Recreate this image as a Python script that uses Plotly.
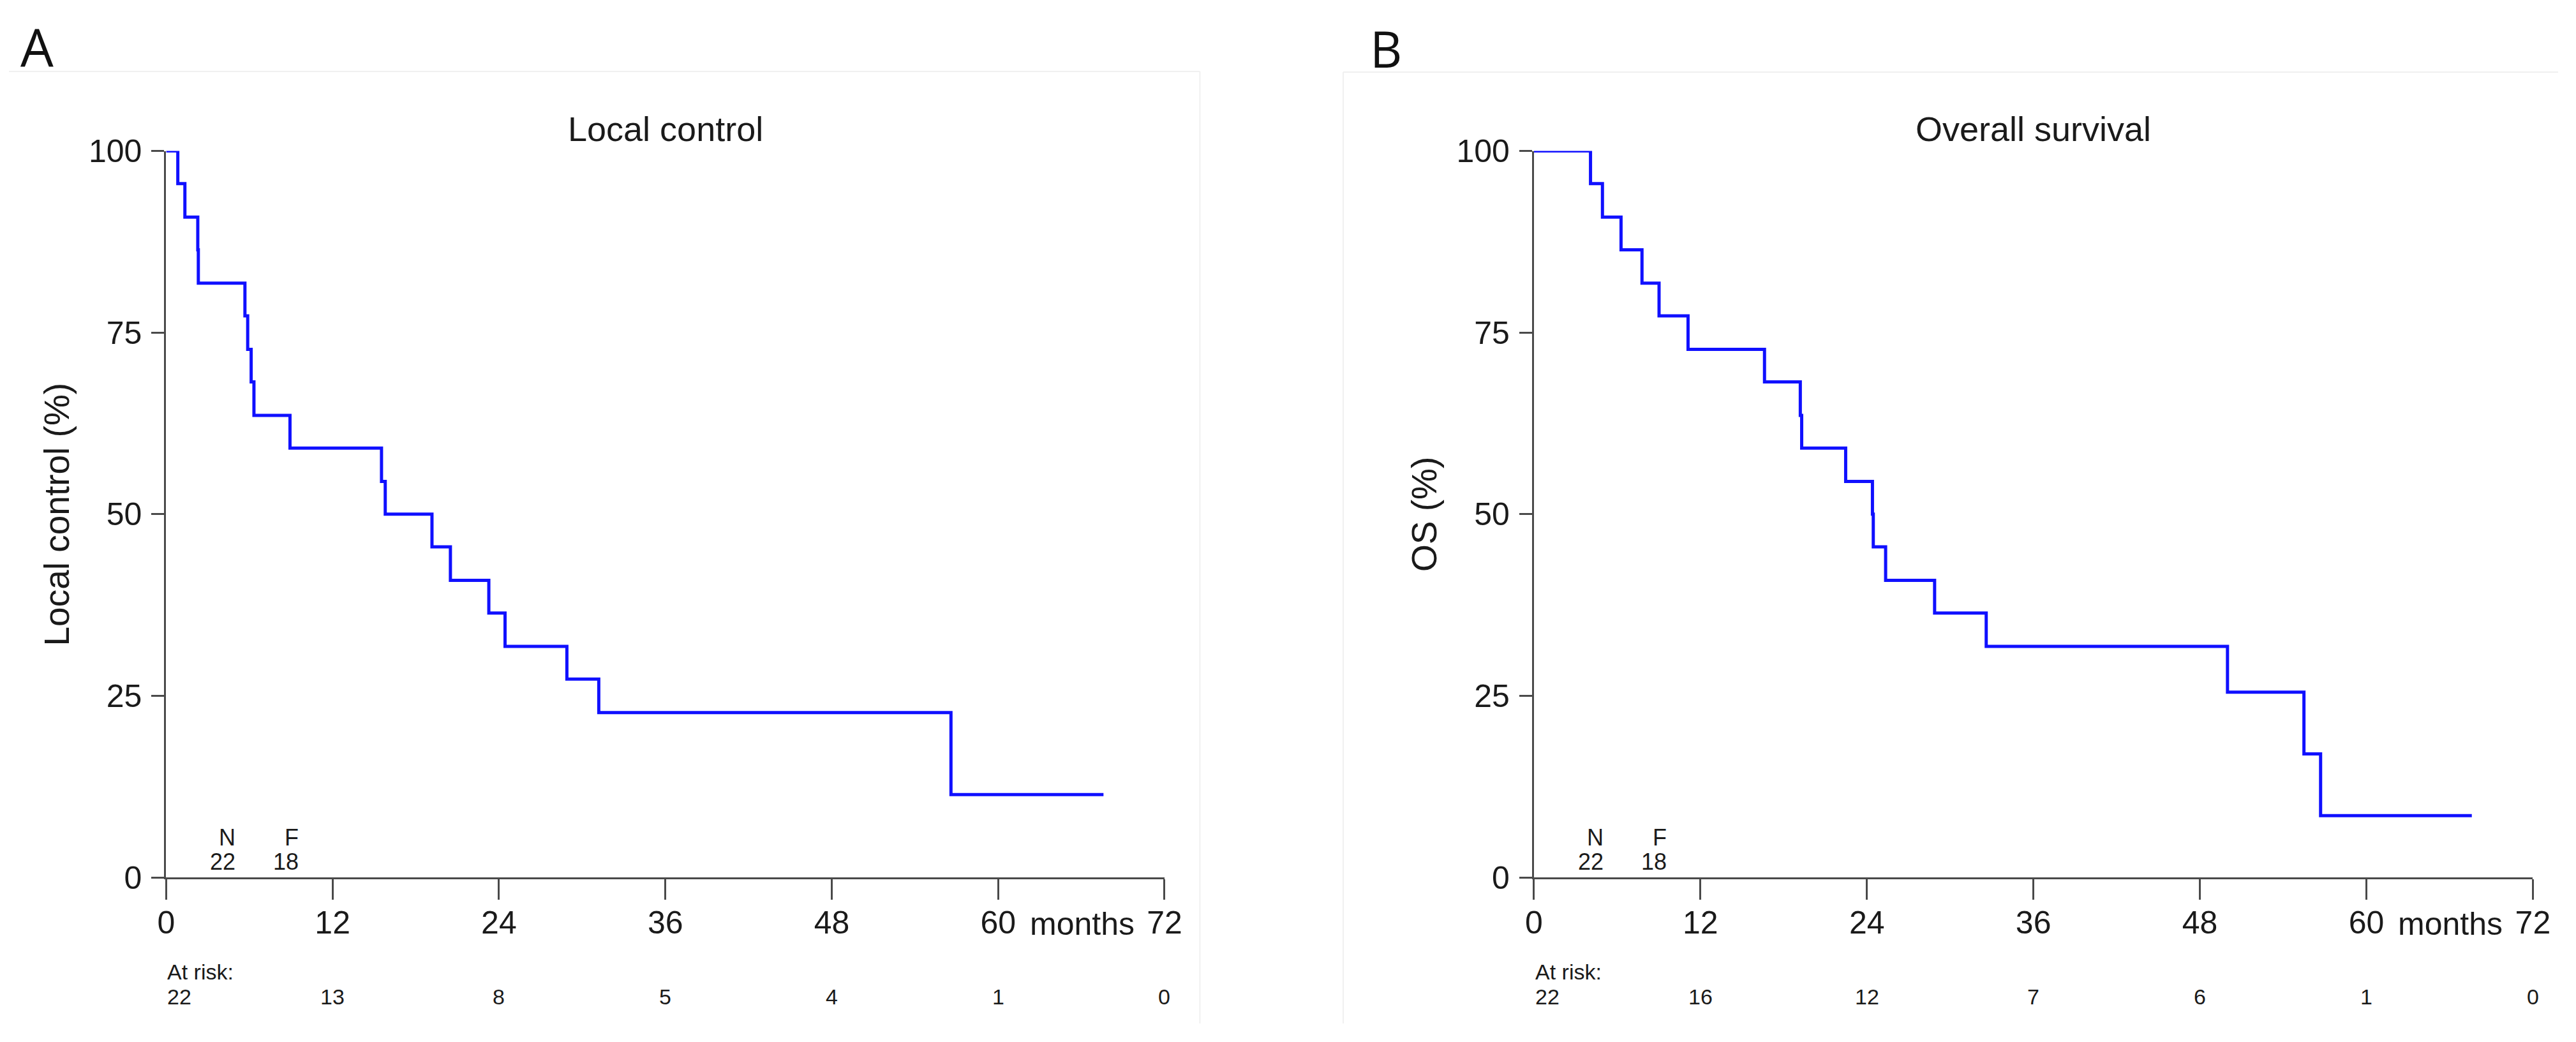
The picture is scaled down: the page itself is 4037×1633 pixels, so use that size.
import plotly.graph_objects as go

# ---------------- data ----------------
month_ticks = [0, 12, 24, 36, 48, 60, 72]
pct_ticks = [0, 25, 50, 75, 100]

# Panel A: Local control (Kaplan-Meier steps: time of change, value after change)
lc_time = [0, 0.84, 1.35, 2.28, 2.32, 5.68, 5.88, 6.13, 6.33, 8.93, 15.53, 15.8,
           19.17, 20.5, 23.27, 24.44, 28.9, 31.2, 56.6, 67.6]
lc_surv = [100, 95.5, 90.9, 86.4, 81.8, 77.3, 72.7, 68.2, 63.6, 59.1, 54.5, 50.0,
           45.5, 40.9, 36.4, 31.8, 27.3, 22.7, 11.4, 11.4]
lc_at_risk = [22, 13, 8, 5, 4, 1, 0]
lc_n, lc_f = 22, 18

# Panel B: Overall survival
os_time = [0, 4.08, 4.94, 6.28, 7.79, 9.02, 11.11, 16.62, 19.2, 19.3, 22.47, 24.4,
           24.46, 25.35, 28.88, 32.6, 49.99, 55.5, 56.7, 67.6]
os_surv = [100, 95.5, 90.9, 86.4, 81.8, 77.3, 72.7, 68.2, 63.6, 59.1, 54.5, 50.0,
           45.5, 40.9, 36.4, 31.8, 25.5, 17.0, 8.5, 8.5]
os_at_risk = [22, 16, 12, 7, 6, 1, 0]
os_n, os_f = 22, 18

# ---------------- layout helpers ----------------
W, H = 4037, 1633
def px(x):
    return x / W
def py(y):
    return (H - y) / H

FONT = "Liberation Sans, Arial, sans-serif"
TXT = "#1a1a1a"
AX = "#4a4a4a"
BLUE = "#1010ff"

panels = [
    dict(xa="x", ya="y", x0=249, x1=1830, title="Local control", ylab="Local control (%)",
         ylab_x=76, t=lc_time, s=lc_surv, risk=lc_at_risk, n=lc_n, f=lc_f,
         letter="A", letter_x=16, letter_y=48, letter_size=82),
    dict(xa="x2", ya="y2", x0=2415, x1=3997, title="Overall survival", ylab="OS (%)",
         ylab_x=2242, t=os_time, s=os_surv, risk=os_at_risk, n=os_n, f=os_f,
         letter="B", letter_x=2153, letter_y=51, letter_size=78),
]

Y0, Y100 = 1396, 217

fig = go.Figure()
annotations = []
shapes = []

for i, p in enumerate(panels):
    fig.add_trace(go.Scatter(x=p["t"], y=p["s"], mode="lines", line_shape="hv",
                             line=dict(color=BLUE, width=5), xaxis=p["xa"], yaxis=p["ya"],
                             showlegend=False, hoverinfo="skip"))
    sfx = "" if i == 0 else "2"
    fig.layout["xaxis" + sfx] = dict(
        domain=[px(p["x0"]), px(p["x1"])], range=[0, 72], anchor="y" + sfx,
        tickmode="array", tickvals=month_ticks, ticktext=[str(v) for v in month_ticks],
        ticks="outside", ticklen=32, tickwidth=3, tickcolor=AX,
        showline=True, linecolor=AX, linewidth=3, showgrid=False, zeroline=False,
        tickfont=dict(family=FONT, size=50, color=TXT), ticklabelstandoff=-7,
        fixedrange=True)
    fig.layout["yaxis" + sfx] = dict(
        domain=[py(Y0), py(Y100)], range=[0, 100], anchor="x" + sfx,
        tickmode="array", tickvals=pct_ticks, ticktext=[str(v) for v in pct_ticks],
        ticks="outside", ticklen=20, tickwidth=3, tickcolor=AX,
        showline=True, linecolor=AX, linewidth=3, showgrid=False, zeroline=False,
        tickfont=dict(family=FONT, size=50, color=TXT), ticklabelstandoff=5,
        fixedrange=True)

    xa = p["xa"]
    # title
    annotations.append(dict(text=p["title"], x=36, xref=xa, y=py(181), yref="paper",
                            xanchor="center", yanchor="middle", showarrow=False,
                            font=dict(family=FONT, size=54, color=TXT)))
    # y-axis label
    annotations.append(dict(text=p["ylab"], x=px(p["ylab_x"]), xref="paper", y=py(807),
                            yref="paper", textangle=-90, xanchor="center", yanchor="middle",
                            showarrow=False, font=dict(family=FONT, size=55, color=TXT)))
    # months label
    annotations.append(dict(text="months", x=62.2, xref=xa, y=py(1471), yref="paper",
                            xanchor="left", yanchor="middle", showarrow=False,
                            font=dict(family=FONT, size=50, color=TXT)))
    # N / F labels
    for lab, val, xr in (("N", p["n"], 5.1), ("F", p["f"], 9.65)):
        annotations.append(dict(text=lab, x=xr, xref=xa, y=py(1331), yref="paper",
                                xanchor="right", yanchor="middle", showarrow=False,
                                font=dict(family=FONT, size=36, color=TXT)))
        annotations.append(dict(text=str(val), x=xr, xref=xa, y=py(1371), yref="paper",
                                xanchor="right", yanchor="middle", showarrow=False,
                                font=dict(family=FONT, size=36, color=TXT)))
    # at risk
    annotations.append(dict(text="At risk:", x=0, xref=xa, y=py(1549), yref="paper",
                            xanchor="left", yanchor="middle", showarrow=False,
                            font=dict(family=FONT, size=34, color=TXT)))
    for j, (m, r) in enumerate(zip(month_ticks, p["risk"])):
        annotations.append(dict(text=str(r), x=m, xref=xa, y=py(1590), yref="paper",
                                xanchor="left" if j == 0 else "center", yanchor="middle",
                                showarrow=False, font=dict(family=FONT, size=34, color=TXT)))
    # panel letter
    annotations.append(dict(text=p["letter"], x=px(p["letter_x"]), xref="paper",
                            y=py(p["letter_y"]), yref="paper", xanchor="left",
                            yanchor="middle", showarrow=False,
                            font=dict(family="Open Sans, Noto Sans, sans-serif",
                                      size=p["letter_size"], color="#111111")))

# faint frames of the original sub-images
shapes.append(dict(type="line", xref="paper", yref="paper", x0=0, x1=px(1886),
                   y0=py(88), y1=py(88), line=dict(color="#f0f0f0", width=2)))
shapes.append(dict(type="line", xref="paper", yref="paper", x0=px(1886), x1=px(1886),
                   y0=py(88), y1=0, line=dict(color="#f0f0f0", width=2)))
shapes.append(dict(type="line", xref="paper", yref="paper", x0=px(2113), x1=1,
                   y0=py(89), y1=py(89), line=dict(color="#f0f0f0", width=2)))
shapes.append(dict(type="line", xref="paper", yref="paper", x0=px(2113), x1=px(2113),
                   y0=py(89), y1=0, line=dict(color="#f0f0f0", width=2)))

fig.update_layout(width=W, height=H, margin=dict(l=0, r=0, t=0, b=0),
                  paper_bgcolor="white", plot_bgcolor="white",
                  annotations=annotations, shapes=shapes, showlegend=False)

fig.write_html("out.html", config={"displayModeBar": False},
               post_script="document.body.style.margin='0';document.body.style.overflow='hidden';")
